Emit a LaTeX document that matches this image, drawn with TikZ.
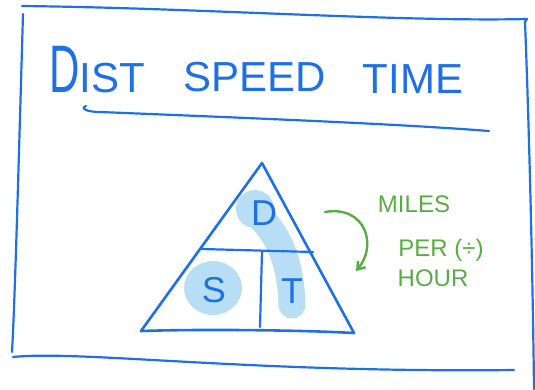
\documentclass[tikz,border=0pt]{standalone}
\usepackage{fontspec}
\setmainfont{Liberation Sans}
\usetikzlibrary{arrows.meta}
\definecolor{marcador}{RGB}{30,112,230}
\definecolor{verde}{RGB}{88,172,68}
\definecolor{resalte}{RGB}{184,222,245}
\tikzset{
  trazo/.style={marcador, line width=2.2pt, line cap=round, line join=round},
  titulo/.style={marcador, anchor=base, inner sep=0pt, font=\fontsize{42}{42}\selectfont},
  letra/.style={marcador, anchor=base, inner sep=0pt, font=\fontsize{36}{36}\selectfont},
  nota/.style={verde, anchor=base, inner sep=0pt, font=\fontsize{24}{24}\selectfont},
}
\begin{document}
\begin{tikzpicture}[x=1pt,y=-1pt]
    \useasboundingbox (0,0) rectangle (535,389);

    % Resaltado azul claro
    \fill[resalte] (213,288) ellipse (29 and 27);
    \fill[resalte] (255,209) circle (19);
    \draw[resalte, line width=27pt, line cap=round] (258,215) .. controls (284,240) and (291,272) .. (292,305);

    % Marco de la pizarra
    \draw[trazo] (22,6) .. controls (200,8) and (400,22) .. (527,19) -- (525,22) .. controls (530,150) and (533,300) .. (534,389);
    \draw[trazo] (23,14) .. controls (19,150) and (15,300) .. (12,352);
    \draw[trazo] (13,357) .. controls (80,350) and (250,373) .. (514,370);

    % Titulo subrayado
    \node[titulo] (dist) at (97,92) {\scalebox{1}[1.6]{D}IST};
    \node[titulo] (speed) at (255,91) {SPEED};
    \node[titulo] (time) at (413,93) {TIME};
    \draw[trazo] (86,106) .. controls (80,108) and (86,112) .. (100,112) .. controls (250,118) and (400,124) .. (489,131);

    % Triangulo D / S T
    \coordinate (cima) at (262,163);
    \coordinate (izq) at (141,331);
    \coordinate (der) at (354,333);
    \coordinate (medio) at (262,251);
    \draw[trazo, line width=2.6pt] (izq) -- (cima) -- (der) .. controls (300,330) and (200,329) .. (izq);
    \draw[trazo] (202,249) -- (313,252);
    \draw[trazo] (medio) -- (260,327);
    \node[letra] (d) at (264,225) {D};
    \node[letra] (s) at (214,302) {S};
    \node[letra] (t) at (292,303) {T};

    % Nota en verde
    \node[nota] (millas) at (414,212) {MILES};
    \node[nota] (por) at (441,256) {PER (÷)};
    \node[nota] (hora) at (433,286) {HOUR};
    \coordinate (salida) at (325,212);
    \coordinate (llegada) at (356,271);
    \draw[verde, line width=2.4pt, line cap=round, -{Straight Barb[length=7pt,width=10pt]}] (salida) .. controls (365,205) and (378,245) .. (llegada);
\end{tikzpicture}
\end{document}
